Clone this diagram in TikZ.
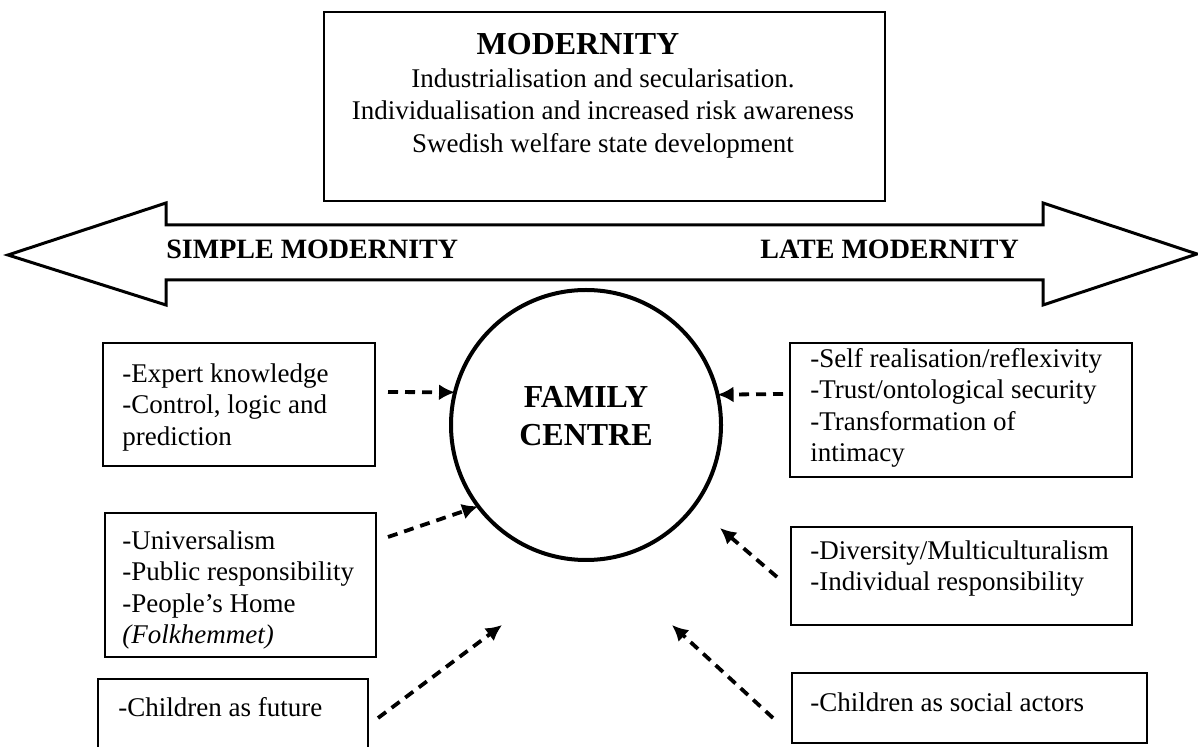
\documentclass[tikz,border=0pt]{standalone}
\usepackage{fontspec}
\setmainfont{Liberation Serif}
\usetikzlibrary{arrows.meta,fit,calc}
\begin{document}
\begin{tikzpicture}[x=0.5pt,y=-0.5pt,
  box/.style={draw, line width=1.4pt, inner sep=0pt, outer sep=0pt},
  txt/.style={inner sep=0pt, anchor=north west, align=left, font=\fontsize{13.5}{15.75}\selectfont},
  conn/.style={line width=1.9pt, dash pattern=on 5pt off 3.5pt, -{Latex[length=8pt,width=8pt]}},
  bigarrow/.style={draw, line width=1.5pt, line join=miter},
  lbl/.style={inner sep=0pt, font=\fontsize{14}{16}\selectfont\bfseries}]
\useasboundingbox (0,0) rectangle (1198,747);
\clip (0,0) rectangle (1198,747);

% top box
\node[box, fit={(324,12) (885,201)}] (top) {};
\node[inner sep=0pt, font=\fontsize{16}{19}\selectfont\bfseries] (modt) at (578,44) {MODERNITY};
\node[inner sep=0pt, anchor=north, align=center, font=\fontsize{13.5}{16.25}\selectfont] (modl) at (603,68)
  {Industrialisation and secularisation.\\Individualisation and increased risk awareness\\Swedish welfare state development};

% double arrow
\draw[bigarrow] (8,255) -- (166,203) -- (166,225) -- (1043,225) -- (1043,203) -- (1197,254)
  -- (1043,305) -- (1043,280) -- (166,280) -- (166,305) -- cycle;
\node[lbl, anchor=west] (simple) at (166,249) {SIMPLE MODERNITY};
\node[lbl, anchor=west] (late) at (760,249) {LATE MODERNITY};

% circle
\node[circle, draw, line width=2pt, minimum size=135pt, inner sep=0pt, outer sep=0pt] (fc) at (586,425) {};
\node[inner sep=0pt, align=center, font=\fontsize{16}{19}\selectfont\bfseries] (fct) at (586,416) {FAMILY\\CENTRE};

% left boxes
\node[box, fit={(103,343) (375,466)}] (b1) {};
\node[txt] (b1t) at (122,363) {-Expert knowledge\\-Control, logic and\\prediction};
\node[box, fit={(105,513) (376,657)}] (b2) {};
\node[txt] (b2t) at (122,530) {-Universalism\\-Public responsibility\\-People's Home\\\textit{(Folkhemmet)}};
\node[box, fit={(98,679) (368,770)}] (b3) {};
\node[txt] (b3t) at (118,697) {-Children as future};

% right boxes
\node[box, fit={(790,343) (1132,477)}] (r1) {};
\node[txt] (r1t) at (810,348) {-Self realisation/reflexivity\\-Trust/ontological security\\-Transformation of\\intimacy};
\node[box, fit={(791,527) (1132,625)}] (r2) {};
\node[txt] (r2t) at (810,540) {-Diversity/Multiculturalism\\-Individual responsibility};
\node[box, fit={(792,673) (1147,743)}] (r3) {};
\node[txt] (r3t) at (810,692) {-Children as social actors};

% connectors
\coordinate (t1) at (388,392);
\coordinate (t2) at (388,537);
\coordinate (t3) at (378,718);
\coordinate (h3) at (502,625);
\coordinate (t4) at (783,394);
\coordinate (t5) at (777,577);
\coordinate (h5) at (720,528);
\coordinate (t6) at (773,718);
\coordinate (h6) at (672,625);
\draw[conn] (t1) -- (fc.166);
\draw[conn] (t2) -- (fc.217);
\draw[conn] (t3) -- (h3);
\draw[conn] (t4) -- (fc.13);
\draw[conn] (t5) -- (h5);
\draw[conn] (t6) -- (h6);
\end{tikzpicture}
\end{document}
